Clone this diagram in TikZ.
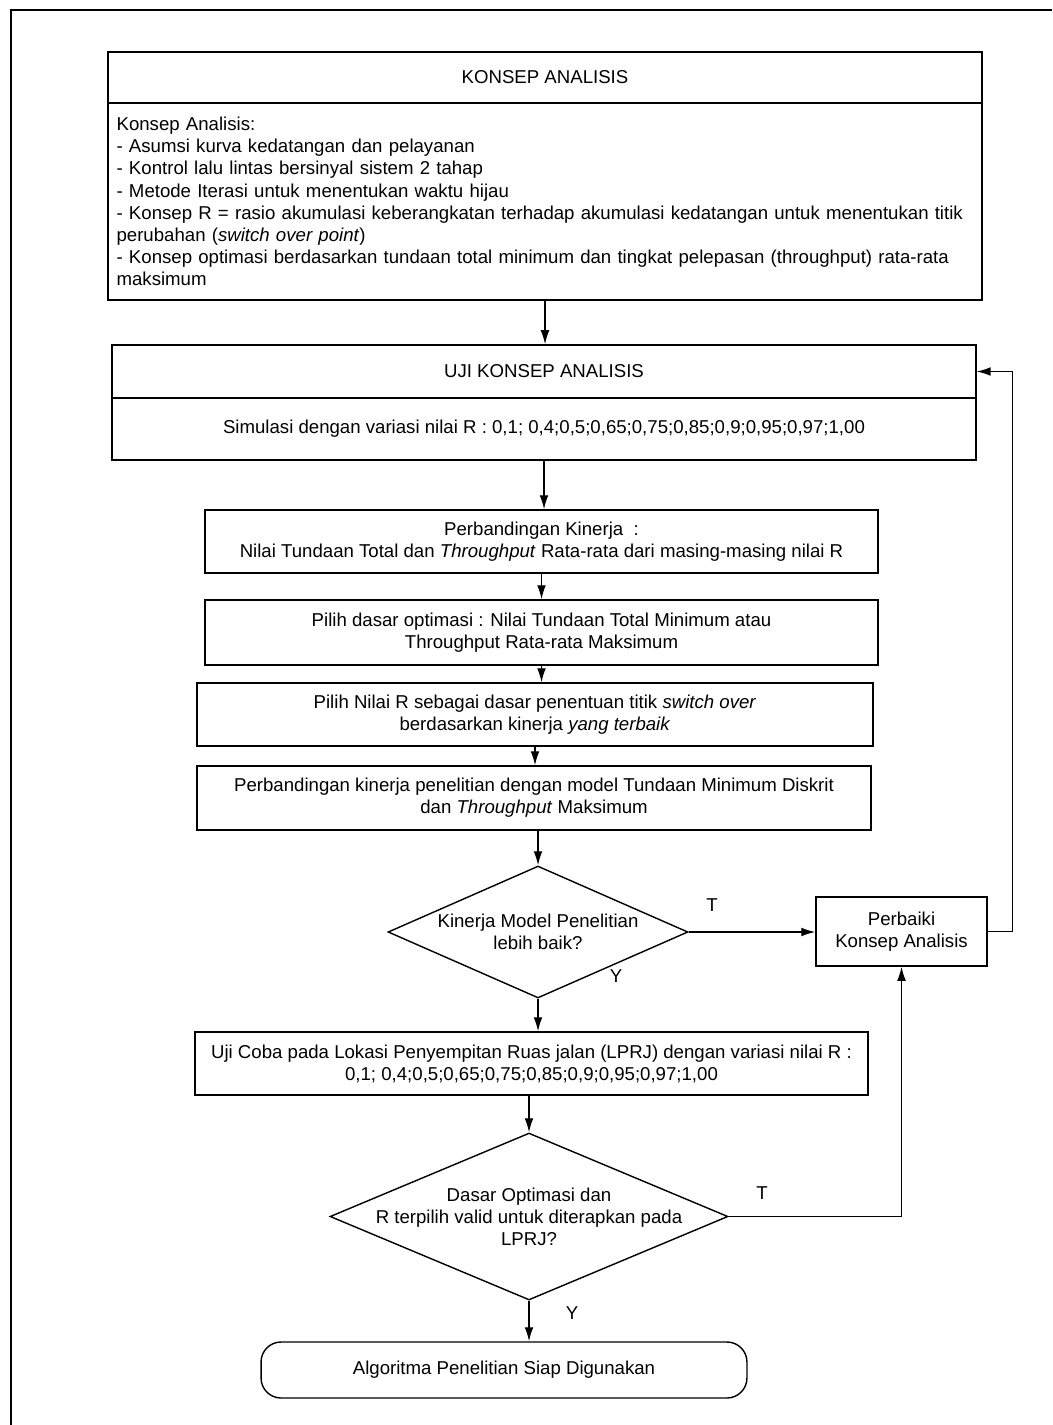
\documentclass[tikz,border=0pt]{standalone}
\usepackage{fontspec}
\setmainfont{Liberation Sans}
\usetikzlibrary{shapes,arrows,arrows.meta}

\begin{document}
\begin{tikzpicture}[x=0.02cm, y=-0.02cm, line width=0.8pt, font=\fontsize{10.6}{12.6}\selectfont]

\tikzstyle{every node} = [inner sep=0pt]
\tikzstyle{box} = [rectangle, draw, align=center]
\tikzstyle{dec} = [diamond, draw]
\tikzstyle{line} = [draw, -{Latex[length=8pt, width=5pt]}]

\useasboundingbox (0,0) rectangle (1052,1425);
\draw (11,1425) -- (11,10) -- (1052,10);

\node[box, minimum width=17.48cm, minimum height=1.02cm] (ka1) at (545,77.5) {KONSEP ANALISIS};
\node[box, minimum width=17.48cm, minimum height=3.94cm, align=left, text width=17.14cm, inner xsep=0.17cm] (ka2) at (545,201.5) {Konsep Analisis:\\
- Asumsi kurva kedatangan dan pelayanan\\
- Kontrol lalu lintas bersinyal sistem 2 tahap\\
- Metode Iterasi untuk menentukan waktu hijau\\
- Konsep R = rasio akumulasi keberangkatan terhadap akumulasi kedatangan untuk menentukan titik\\
perubahan (\textit{switch over point})\\
- Konsep optimasi berdasarkan tundaan total minimum dan tingkat pelepasan (throughput) rata-rata\\
maksimum};

\node[box, minimum width=17.28cm, minimum height=1.06cm] (uji1) at (544,371.5) {UJI KONSEP ANALISIS};
\node[box, minimum width=17.28cm, minimum height=1.24cm] (uji2) at (544,429) {Simulasi dengan variasi nilai R : 0,1; 0,4;0,5;0,65;0,75;0,85;0,9;0,95;0,97;1,00};

\node[box, minimum width=13.46cm, minimum height=1.26cm] (b3) at (541.5,541.5) {Perbandingan Kinerja\ \ :\\Nilai Tundaan Total dan \textit{Throughput} Rata-rata dari masing-masing nilai R};
\node[box, minimum width=13.46cm, minimum height=1.3cm] (b4) at (541.5,632.5) {Pilih dasar optimasi : Nilai Tundaan Total Minimum atau\\Throughput Rata-rata Maksimum};
\node[box, minimum width=13.52cm, minimum height=1.26cm] (b5) at (535,714.5) {Pilih Nilai R sebagai dasar penentuan titik \textit{switch over}\\berdasarkan kinerja \textit{yang terbaik}};
\node[box, minimum width=13.48cm, minimum height=1.28cm] (b6) at (534,798) {Perbandingan kinerja penelitian dengan model Tundaan Minimum Diskrit\\dan \textit{Throughput} Maksimum};

\node[dec, minimum width=6cm, minimum height=2.64cm, label={[align=center]center:Kinerja Model Penelitian\\lebih baik?}] (d1) at (538,932) {};
\node[box, minimum width=3.42cm, minimum height=1.38cm] (perb) at (901.5,931.5) {Perbaiki\\Konsep Analisis};

\node[box, minimum width=13.46cm, minimum height=1.26cm] (b7) at (531.5,1063.5) {Uji Coba pada Lokasi Penyempitan Ruas jalan (LPRJ) dengan variasi nilai R :\\0,1; 0,4;0,5;0,65;0,75;0,85;0,9;0,95;0,97;1,00};

\node[dec, minimum width=7.96cm, minimum height=3.34cm, label={[align=center]center:Dasar Optimasi dan\\R terpilih valid untuk diterapkan pada\\LPRJ?}] (d2) at (529,1216.5) {};

\node[box, rounded corners=0.4cm, minimum width=9.72cm, minimum height=1.12cm] (end) at (504,1370) {Algoritma Penelitian Siap Digunakan};

\node (t1) at (712,905) {T};
\node (y1) at (616,976) {Y};
\node (t2) at (762,1193) {T};
\node (y2) at (572,1313) {Y};

\draw[line] (ka2.south) -- (ka2.south |- uji1.north);
\draw[line] (uji2.south) -- (uji2.south |- b3.north);
\draw[line] (b3) -- (b4);
\draw[line] (b4.south) -- (b4.south |- b5.north);
\draw[line] (b5.south) -- (b5.south |- b6.north);
\draw[line] (d1.north |- b6.south) -- (d1.north);
\draw[line] (d1.south) -- (d1.south |- b7.north);
\draw[line] (d2.north |- b7.south) -- (d2.north);
\draw[line] (d2.south) -- (d2.south |- end.north);
\draw[line] (d1.east) -- (d1.east -| perb.west);
\draw[line] (perb.east) -- ++(25,0) |- (uji1.east);
\draw[line] (d2.east) -| (perb.south);
\end{tikzpicture}
\end{document}
